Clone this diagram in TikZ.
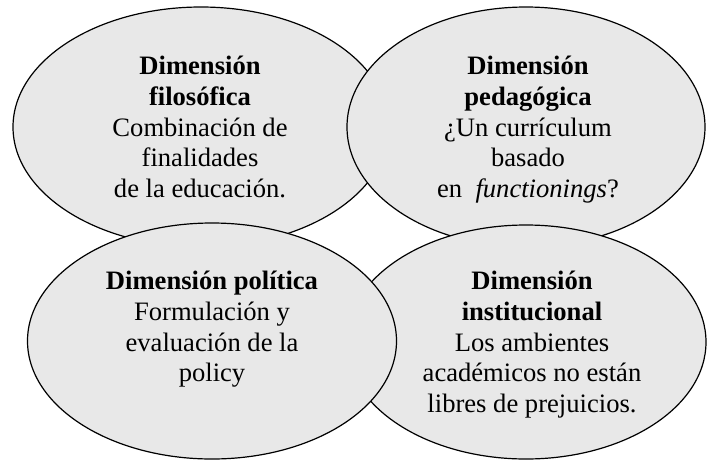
\documentclass[tikz,border=0pt]{standalone}
\usepackage{fontspec}
\setmainfont{Liberation Serif}
\usetikzlibrary{shapes.geometric}
\begin{document}
\begin{tikzpicture}[x=1pt,y=-1pt,
  ell/.style={draw=black, line width=1.2pt, fill=black!9, ellipse, inner sep=0pt},
  txt/.style={align=center, inner sep=0pt, anchor=north, font=\fontsize{26.6}{30.7}\selectfont}]
\useasboundingbox (0,0) rectangle (707,461);
% drawing order: TL, TR, BR, BL
\node[ell, minimum width=376pt, minimum height=240pt] (tl) at (201,127) {};
\node[ell, minimum width=358pt, minimum height=240pt] (tr) at (526,127) {};
\node[ell, minimum width=360pt, minimum height=234pt] (br) at (526,342) {};
\node[ell, minimum width=369pt, minimum height=236pt] (bl) at (212,341) {};
\node[txt] (ttl) at (200,56) {\textbf{Dimensión}\\\textbf{filosófica}\\Combinación de\\finalidades\\de la educación.};
\node[txt] (ttr) at (528,56) {\textbf{Dimensión}\\\textbf{pedagógica}\\¿Un currículum\\basado\\en \ \textit{functionings}?};
\node[txt] (tbl) at (212,271) {\textbf{Dimensión política}\\Formulación y\\evaluación de la\\policy};
\node[txt] (tbr) at (532,271) {\textbf{Dimensión}\\\textbf{institucional}\\Los ambientes\\académicos no están\\libres de prejuicios.};
\end{tikzpicture}
\end{document}
